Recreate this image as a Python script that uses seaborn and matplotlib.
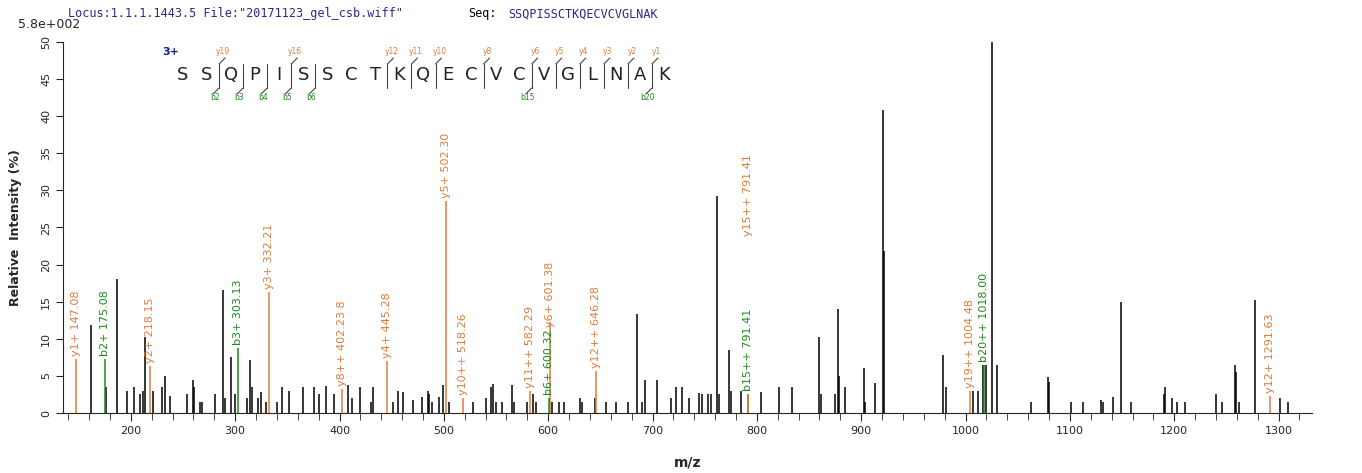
import matplotlib
matplotlib.use("Agg")
import matplotlib.pyplot as plt
import seaborn as sns
from matplotlib.lines import Line2D

sns.set_style("ticks")
plt.rcParams['font.family'] = ['DejaVu Sans']

# unlabeled peaks
peak_mz = [162, 176, 187, 196, 203, 209, 212, 213.4, 221, 230, 233, 238, 254, 260, 261, 266, 268,
           281, 288, 290, 296, 300, 311, 314, 316, 322, 325, 330, 340, 345, 352, 365, 376, 380, 387,
           395, 408, 412, 420, 430, 432, 451, 456, 461, 470, 479, 485, 486, 489, 495, 499, 505,
           528, 540, 545, 547, 550, 556, 565, 567, 580, 585, 588, 604, 610, 615, 630, 632, 645,
           655, 665, 676, 685, 690, 693, 704, 718, 722, 728, 735, 745, 747, 753, 756, 762, 764,
           773, 775, 785, 804, 821, 834, 860, 861, 875, 878, 879, 884, 903, 904, 913, 921, 922,
           978, 981, 1007, 1012, 1017, 1020, 1025, 1030, 1063, 1079, 1080, 1101, 1113, 1130, 1132,
           1141, 1149, 1159, 1190, 1191, 1198, 1203, 1210, 1240, 1246, 1258, 1259, 1262, 1277,
           1301, 1309]
peak_int = [11.9, 3.5, 18.1, 3.0, 3.5, 2.5, 3.0, 10.2, 3.0, 3.5, 5.0, 2.3, 2.5, 4.5, 3.5, 1.5, 1.5,
            2.5, 16.6, 2.0, 7.5, 2.5, 2.0, 7.2, 3.5, 2.0, 2.8, 1.5, 1.5, 3.5, 3.0, 3.5, 3.5, 2.5, 3.7,
            2.5, 3.8, 2.0, 3.5, 1.5, 3.5, 1.5, 3.0, 2.8, 1.8, 2.1, 3.0, 2.5, 1.5, 2.1, 3.8, 1.5,
            1.5, 2.0, 3.5, 3.9, 1.5, 1.5, 3.8, 1.5, 1.5, 2.5, 1.5, 1.5, 1.5, 1.5, 2.0, 1.5, 2.0,
            1.5, 1.5, 1.5, 13.3, 1.5, 4.5, 4.5, 2.0, 3.5, 3.5, 2.0, 2.7, 2.5, 2.5, 2.5, 29.2, 2.5,
            8.5, 3.0, 3.0, 2.8, 3.5, 3.5, 10.2, 2.5, 2.5, 14.0, 5.0, 3.5, 6.0, 1.5, 4.0, 40.8, 21.8,
            7.8, 3.5, 3.0, 3.0, 6.5, 6.5, 50.0, 6.5, 1.5, 4.8, 4.2, 1.5, 1.5, 1.8, 1.5,
            2.2, 15.0, 1.5, 2.5, 3.5, 2.0, 1.5, 1.5, 2.5, 1.5, 6.5, 5.5, 1.5, 15.2,
            2.0, 1.5]

# labeled fragment ions
ion_mz = [147.08, 175.08, 218.15, 303.13, 332.21, 402.23, 445.28, 502.30, 518.26, 582.29,
          601.38, 600.32, 646.28, 791.41, 791.41, 1004.48, 1018.00, 1291.63]
ion_int = [7.3, 7.3, 6.4, 8.7, 16.3, 3.2, 7.0, 28.6, 2.0, 3.0,
           12.3, 2.0, 5.7, 2.5, 2.5, 3.0, 6.5, 2.3]
# height at which each label starts
ion_label_base = [7.3, 7.3, 6.4, 8.7, 16.3, 3.2, 7.0, 28.6, 2.0, 3.0,
                  11.2, 2.0, 5.7, 2.5, 23.5, 3.0, 6.5, 2.3]
ion_label = ["y1+ 147.08", "b2+ 175.08", "y2+ 218.15", "b3+ 303.13", "y3+ 332.21", "y8++ 402.23 8",
             "y4+ 445.28", "y5+ 502.30", "y10++ 518.26", "y11++ 582.29", "y6+ 601.38", "b6+ 600.32",
             "y12++ 646.28", "b15++ 791.41", "y15++ 791.41", "y19++ 1004.48", "b20++ 1018.00",
             "y12+ 1291.63"]
ion_type = ["y", "b", "y", "b", "y", "y", "y", "y", "y", "y", "y", "b", "y", "b", "y", "y", "b", "y"]

sequence = "SSQPISSCTKQECVCVGLNAK"
y_marks = {3: "y19", 6: "y16", 10: "y12", 11: "y11", 12: "y10", 14: "y8", 16: "y6",
           17: "y5", 18: "y4", 19: "y3", 20: "y2", 21: "y1"}
b_marks = {3: "b2", 4: "b3", 5: "b4", 6: "b5", 7: "b6", 16: "b15", 21: "b20"}

ORANGE = "#e07b39"
GREEN = "#1c8a1c"
W, H = 1362, 473
fig = plt.figure(figsize=(W / 100, H / 100), dpi=100)
ax = fig.add_axes([63 / W, 1 - 413 / H, (1312 - 63) / W, (413 - 42) / H])

ax.vlines(peak_mz, 0, peak_int, color="black", lw=1.1)
for mz, it, base, lab, t in zip(ion_mz, ion_int, ion_label_base, ion_label, ion_type):
    c = ORANGE if t == "y" else GREEN
    ax.vlines([mz], 0, [it], color=c, lw=1.1)
    ax.text(mz, base + 0.4, lab, rotation=90, color=c, fontsize=8, ha="center", va="bottom")

ax.set_xlim(135, 1332)
ax.set_ylim(0, 50)
ax.set_xticks(range(200, 1301, 100))
ax.set_xticks(range(140, 1332, 20), minor=True)
ax.set_yticks(range(0, 51, 5))
ax.tick_params(axis="x", labelsize=8, length=6, direction="out")
ax.tick_params(axis="x", which="minor", length=5)
ax.tick_params(axis="y", labelsize=8, length=5)
for lab in ax.get_yticklabels():
    lab.set_rotation(90)
    lab.set_va("center")
ax.set_xlabel("m/z", fontsize=10, fontweight="bold", labelpad=14)
ax.set_ylabel("Relative  Intensity (%)", fontsize=9, fontweight="bold", labelpad=14)
sns.despine(ax=ax)

fig.text(18 / W, 1 - 25 / H, "5.8e+002", fontsize=9, va="center")
fig.text(68 / W, 1 - 14 / H, 'Locus:1.1.1.1443.5 File:"20171123_gel_csb.wiff"', family="DejaVu Sans Mono",
         fontsize=8.5, color="#2a2a8a", va="center")
fig.text(468 / W, 1 - 14 / H, "Seq:", family="DejaVu Sans Mono", fontsize=8.5, color="black", va="center")
fig.text(508 / W, 1 - 14 / H, sequence, family="DejaVu Sans Mono", fontsize=8.5, color="#2a2a8a", va="center")

# peptide ladder
x0, dx, yl = 183, 24.05, 75
fig.text(162 / W, 1 - 52 / H, "3+", color="#1a1aa0", fontsize=8, fontweight="bold", va="center")
for i, ch in enumerate(sequence):
    fig.text((x0 + i * dx) / W, 1 - yl / H, ch, fontsize=13, ha="center", va="center", color="#222222")
def fl(xs, ys, c):
    fig.add_artist(Line2D([x / W for x in xs], [1 - y / H for y in ys], color=c, lw=0.8))
for pos in sorted(set(y_marks) | set(b_marks)):
    xm = x0 + (pos - 1.5) * dx
    fl([xm, xm], [64, 88], "#444444")
    if pos in y_marks:
        fl([xm, xm + 6], [64, 58], "#444444")
        fig.text((xm + 4) / W, 1 - 52 / H, y_marks[pos], color=ORANGE, fontsize=5.5, ha="center", va="center")
    if pos in b_marks:
        fl([xm, xm - 6], [88, 94], "#444444")
        fig.text((xm - 4) / W, 1 - 97 / H, b_marks[pos], color=GREEN, fontsize=5.5, ha="center", va="center")

fig.savefig("out.png", dpi=100)
